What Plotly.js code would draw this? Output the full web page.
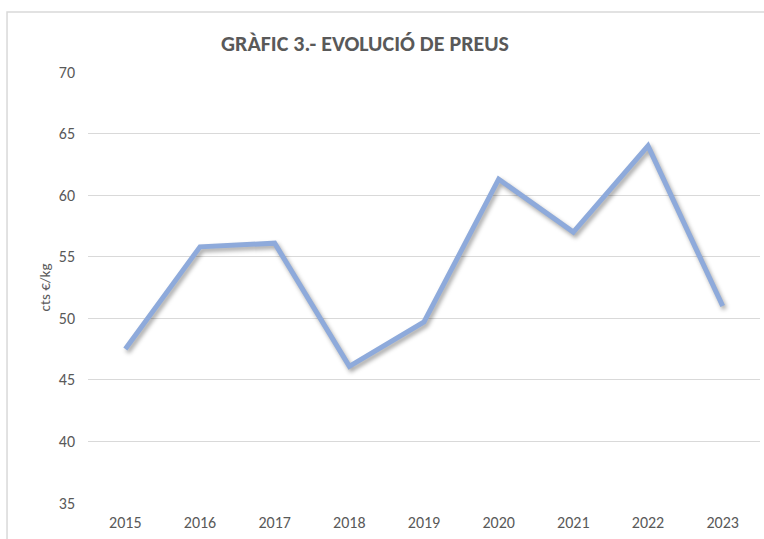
<!DOCTYPE html>
<html>
<head>
<meta charset="utf-8">
<script src="https://cdn.plot.ly/plotly-3.0.1.min.js"></script>
<style>
html,body{margin:0;padding:0;background:#fff;}
#chart{width:764px;height:539px;}
.scatterlayer .trace path.js-line{filter:drop-shadow(2px 3px 2px rgba(0,0,0,0.35));}
</style>
</head>
<body>
<div id="chart"></div>
<script>
const years = ["2015","2016","2017","2018","2019","2020","2021","2022","2023"];
const prices = [47.5, 55.8, 56.1, 46.1, 49.7, 61.3, 57.0, 64.0, 51.0];
const yTicks = [35, 40, 45, 50, 55, 60, 65, 70];

const FONT = "Carlito, Calibri, Lato, sans-serif";
const GRAY = "#595959";

const trace = {
  x: years,
  y: prices,
  type: "scatter",
  mode: "lines",
  line: {color: "#8eaadb", width: 5, shape: "linear"},
  hoverinfo: "skip"
};

const layout = {
  width: 764,
  height: 539,
  margin: {l: 88, r: 4, t: 72, b: 36},
  paper_bgcolor: "#ffffff",
  plot_bgcolor: "#ffffff",
  showlegend: false,
  font: {family: FONT, color: GRAY, size: 16},
  title: {
    text: "<b>GRÀFIC 3.- EVOLUCIÓ DE PREUS</b>",
    font: {family: FONT, size: 22, color: GRAY},
    x: 365/764, xref: "container", xanchor: "center",
    y: 1 - 43/539, yref: "container", yanchor: "middle"
  },
  xaxis: {
    type: "category",
    categoryorder: "array",
    categoryarray: years,
    range: [-0.5, years.length - 0.5],
    showgrid: false,
    zeroline: false,
    showline: false,
    ticks: "",
    tickfont: {family: FONT, size: 16, color: GRAY},
    ticklabelstandoff: 8,
    fixedrange: true
  },
  yaxis: {
    range: [35, 70],
    tickvals: yTicks,
    ticktext: yTicks.map(String),
    showgrid: true,
    gridcolor: "#d9d9d9",
    gridwidth: 1,
    zeroline: false,
    showline: false,
    ticks: "",
    tickfont: {family: FONT, size: 16, color: GRAY},
    ticklabelstandoff: 12,
    title: {text: "cts €/kg", font: {family: FONT, size: 15, color: GRAY}, standoff: 4},
    fixedrange: true
  },
  shapes: [
    {type: "path", xref: "paper", yref: "paper",
     path: "M -0.1205,-0.2 L -0.1205,1.139 L 1.2,1.139",
     line: {color: "#d9d9d9", width: 1.5}}
  ]
};

Plotly.newPlot("chart", [trace], layout, {displayModeBar: false, staticPlot: true});
</script>
</body>
</html>
